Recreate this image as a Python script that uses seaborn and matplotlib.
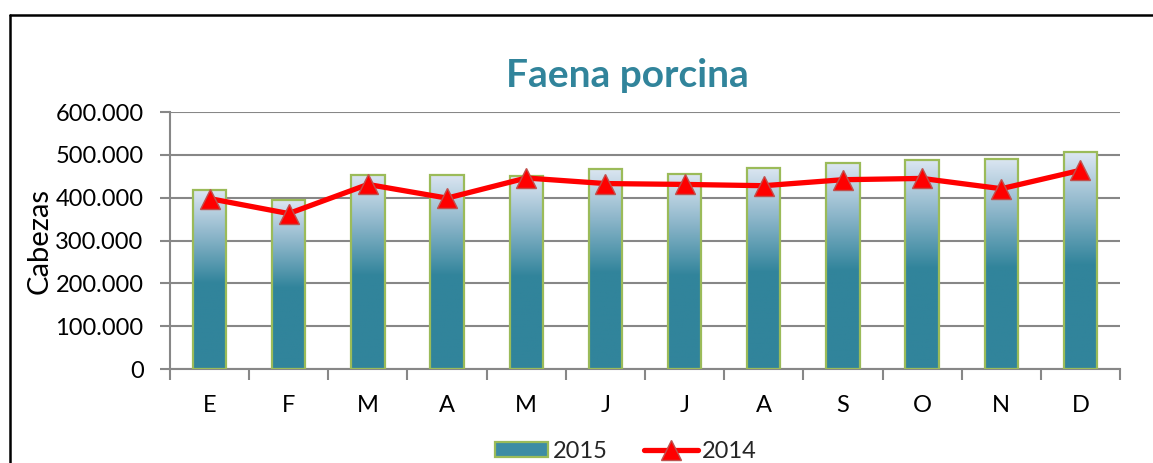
"""Faena porcina: cabezas faenadas por mes, 2015 (barras) frente a 2014 (línea)."""

import matplotlib

matplotlib.use("Agg")

import matplotlib.pyplot as plt
import numpy as np
import pandas as pd
import seaborn as sns
from matplotlib.colors import LinearSegmentedColormap
from matplotlib.lines import Line2D
from matplotlib.patches import Patch
from matplotlib.ticker import FuncFormatter, MultipleLocator

# Datos
months = ["E", "F", "M", "A", "M", "J", "J", "A", "S", "O", "N", "D"]
heads_2015 = [417000, 394000, 453000, 453000, 450000, 467000, 455000, 470000, 480000, 489000, 491000, 506000]
heads_2014 = [398000, 363000, 431000, 399000, 446000, 433000, 431000, 428000, 442000, 445000, 421000, 464000]

TEAL = "#31849B"
LIGHT = "#DCE6F2"
GREEN = "#9BBB59"
GRID = "#878787"

sns.set_theme(style="white")
plt.rcParams["font.family"] = ["Lato", "DejaVu Sans"]

df = pd.DataFrame({"pos": range(len(months)), "y2015": heads_2015, "y2014": heads_2014})

fig = plt.figure(figsize=(11.53, 4.63), dpi=100)
ax = fig.add_axes([0.1474, 0.203, 0.824, 0.555])

sns.barplot(data=df, x="pos", y="y2015", color=TEAL, width=0.42, ax=ax, zorder=2)

# degradado vertical en cada barra: claro arriba, teal en la mitad inferior
cmap = LinearSegmentedColormap.from_list(
    "faena", [(0.0, TEAL), (0.48, TEAL), (0.75, "#8DB6CA"), (1.0, LIGHT)]
)
grad = np.linspace(0, 1, 256).reshape(-1, 1)
for bar in ax.patches:
    x0, y0 = bar.get_x(), bar.get_y()
    w, h = bar.get_width(), bar.get_height()
    img = ax.imshow(grad, cmap=cmap, origin="lower", aspect="auto",
                    extent=[x0, x0 + w, y0, y0 + h], zorder=2)
    img.set_clip_path(bar)
    bar.set_facecolor("none")
    bar.set_edgecolor(GREEN)
    bar.set_linewidth(1.6)
    bar.set_zorder(3)

sns.lineplot(data=df, x="pos", y="y2014", color="#FF0000", linewidth=3.8,
             marker="^", markersize=14, markerfacecolor="#FF0000",
             markeredgecolor="#C0504D", markeredgewidth=1.0, ax=ax, zorder=4)

ax.set_xlim(-0.5, len(months) - 0.5)
ax.set_ylim(0, 600000)
ax.yaxis.set_major_locator(MultipleLocator(100000))
ax.yaxis.set_major_formatter(FuncFormatter(lambda v, _: f"{int(v):,}".replace(",", ".")))
ax.set_xticks(range(len(months)), labels=months)
ax.set_xticks(np.arange(-0.5, len(months)), minor=True)

ax.yaxis.grid(True, color=GRID, linewidth=1.5, zorder=0)
ax.set_axisbelow(True)
for side in ["top", "right"]:
    ax.spines[side].set_visible(False)
for side in ["left", "bottom"]:
    ax.spines[side].set_color(GRID)
    ax.spines[side].set_linewidth(1.5)

ax.tick_params(axis="y", which="major", left=True, length=7, width=1.5, color=GRID,
               labelsize=17, pad=12, labelcolor="black")
ax.tick_params(axis="x", which="major", bottom=False, labelsize=17, pad=13, labelcolor="black")
ax.tick_params(axis="x", which="minor", bottom=True, length=8, width=1.5, color=GRID)

ax.set_xlabel("")
ax.set_ylabel("Cabezas", fontsize=21, color="black")
ax.yaxis.set_label_coords(-0.123, 0.5)

fig.text(0.544, 0.836, "Faena porcina", ha="center", va="center",
         fontsize=28, fontweight="bold", color=TEAL)

handles = [
    Patch(facecolor="#3D8CA4", edgecolor=GREEN, linewidth=1.6),
    Line2D([], [], color="#FF0000", linewidth=3.8, marker="^", markersize=14,
           markerfacecolor="#FF0000", markeredgecolor="#C0504D"),
]
fig.legend(handles, ["2015", "2014"], loc="center", bbox_to_anchor=(0.543, 0.025),
           ncol=2, frameon=False, fontsize=17, handlelength=2.25, handleheight=0.6,
           handletextpad=0.2, columnspacing=1.55)

# marco del área del gráfico (recortado a derecha y abajo)
fig.add_artist(Line2D([10 / 1153, 1], [1 - 15 / 463, 1 - 15 / 463],
                      transform=fig.transFigure, color="black", linewidth=1.8))
fig.add_artist(Line2D([10 / 1153, 10 / 1153], [0, 1 - 15 / 463],
                      transform=fig.transFigure, color="black", linewidth=1.8))

fig.savefig("out.png", dpi=100, facecolor="white")
